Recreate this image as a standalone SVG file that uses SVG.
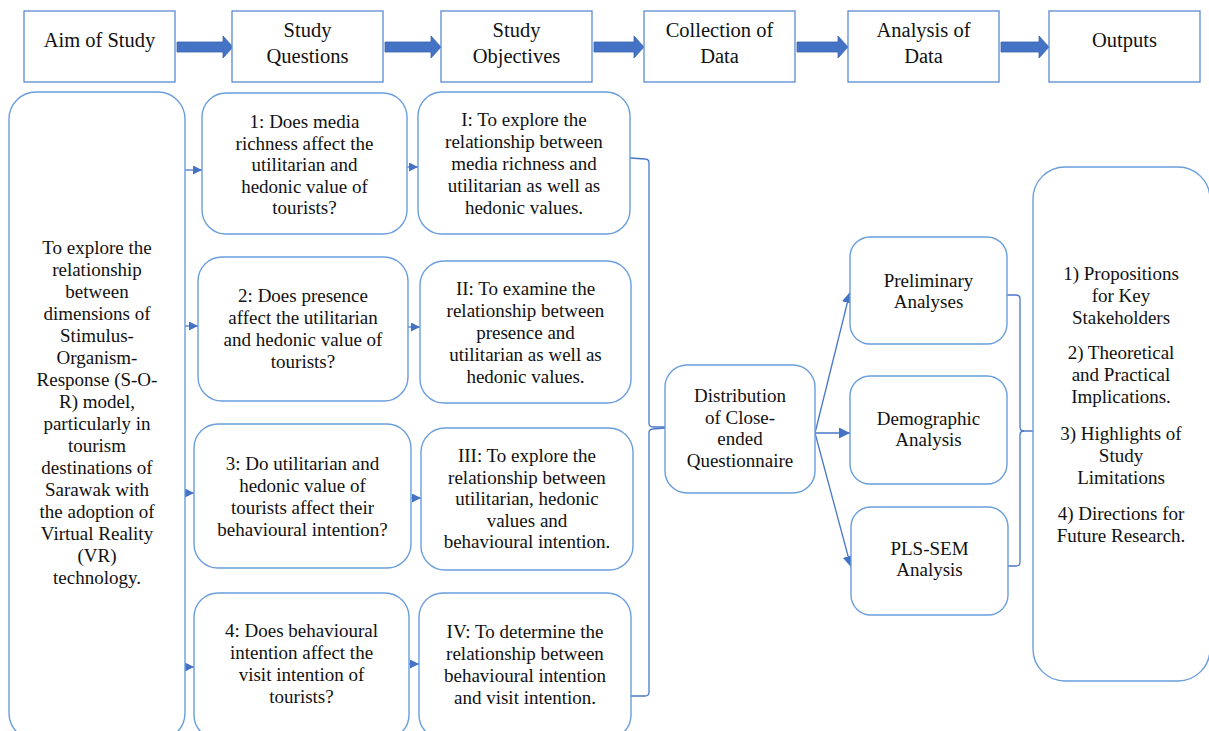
<svg xmlns="http://www.w3.org/2000/svg" width="1209" height="731" viewBox="0 0 1209 731">
<defs>
<style>
.hdr{fill:#fff;stroke:#5a8ad0;stroke-width:1.3}
.rb{fill:#fff;stroke:#6a9edc;stroke-width:1.4}
.t{font-family:'Liberation Serif',serif;font-size:19px;fill:#111;text-anchor:middle}
.th{font-family:'Liberation Serif',serif;font-size:20.5px;fill:#111;text-anchor:middle}
.blk{fill:#4472c4;stroke:#3a64b0;stroke-width:0.8}
.ln{fill:none;stroke:#4a78c8;stroke-width:1.3}
</style>
<marker id="ah" viewBox="0 0 10 10" refX="10" refY="5" markerWidth="9" markerHeight="9" markerUnits="userSpaceOnUse" orient="auto">
<path d="M0,0 L10,5 L0,10 Z" fill="#4472c4"/>
</marker>
<marker id="ah2" viewBox="0 0 10 10" refX="10" refY="5" markerWidth="11" markerHeight="11" markerUnits="userSpaceOnUse" orient="auto">
<path d="M0,0 L10,5 L0,10 Z" fill="#4472c4"/>
</marker>
</defs>
<rect width="1209" height="731" fill="#fff"/>

<g id="connectors">
<path class="blk" d="M177,42 L223,42 L223,36 L233,47 L223,58 L223,52 L177,52 Z"/>
<path class="blk" d="M385,42 L431,42 L431,36 L441,47 L431,58 L431,52 L385,52 Z"/>
<path class="blk" d="M594,42 L634,42 L634,36 L644,47 L634,58 L634,52 L594,52 Z"/>
<path class="blk" d="M797,42 L838,42 L838,36 L848,47 L838,58 L838,52 L797,52 Z"/>
<path class="blk" d="M1001,42 L1039,42 L1039,36 L1049,47 L1039,58 L1039,52 L1001,52 Z"/>
<line class="ln" x1="185" y1="170" x2="202" y2="170" marker-end="url(#ah)"/>
<line class="ln" x1="185" y1="326" x2="198" y2="326" marker-end="url(#ah)"/>
<line class="ln" x1="185" y1="493" x2="194" y2="493" marker-end="url(#ah)"/>
<line class="ln" x1="185" y1="667" x2="194" y2="667" marker-end="url(#ah)"/>
<line class="ln" x1="407" y1="167" x2="418" y2="167" marker-end="url(#ah)"/>
<line class="ln" x1="408" y1="327" x2="420" y2="327" marker-end="url(#ah)"/>
<line class="ln" x1="411" y1="498" x2="421" y2="498" marker-end="url(#ah)"/>
<line class="ln" x1="409" y1="664" x2="419" y2="664" marker-end="url(#ah)"/>
<path class="ln" d="M630,158 L645,159 Q649,159 649,163 L649,423 Q649,427 653,427 L665,427"/>
<path class="ln" d="M631,696 L645,696 Q649,696 649,692 L649,433 Q649,429 653,429 L665,428"/>
<line class="ln" x1="815" y1="433" x2="850" y2="292" marker-end="url(#ah2)"/>
<line class="ln" x1="815" y1="433" x2="850" y2="433" marker-end="url(#ah2)"/>
<line class="ln" x1="815" y1="433" x2="851" y2="567" marker-end="url(#ah2)"/>
<path class="ln" d="M1007,295 L1016,295 Q1020,295 1020,299 L1020,427 Q1020,431 1024,431 L1033,431"/>
<path class="ln" d="M1008,566 L1016,566 Q1020,566 1020,562 L1020,435 Q1020,431 1024,431"/>
</g>

<g id="h-aim"><rect class="hdr" x="24" y="11" width="151" height="71"/><text class="th" x="99.5" y="47">Aim of Study</text></g>
<g id="h-questions"><rect class="hdr" x="232" y="11" width="151" height="71"/><text class="th" x="307.5" y="37">Study</text><text class="th" x="307.5" y="63">Questions</text></g>
<g id="h-objectives"><rect class="hdr" x="441" y="11" width="151" height="71"/><text class="th" x="516.5" y="37">Study</text><text class="th" x="516.5" y="63">Objectives</text></g>
<g id="h-collection"><rect class="hdr" x="644" y="11" width="151" height="71"/><text class="th" x="719.5" y="37">Collection of</text><text class="th" x="719.5" y="63">Data</text></g>
<g id="h-analysis"><rect class="hdr" x="848" y="11" width="151" height="71"/><text class="th" x="923.5" y="37">Analysis of</text><text class="th" x="923.5" y="63">Data</text></g>
<g id="h-outputs"><rect class="hdr" x="1049" y="11" width="151" height="71"/><text class="th" x="1124.5" y="47">Outputs</text></g>

<g id="aim">
<rect class="rb" x="9" y="92" width="176" height="648" rx="27"/>
<text class="t" x="97" y="254">To explore the</text>
<text class="t" x="97" y="276">relationship</text>
<text class="t" x="97" y="298">between</text>
<text class="t" x="97" y="320">dimensions of</text>
<text class="t" x="97" y="342">Stimulus-</text>
<text class="t" x="97" y="364">Organism-</text>
<text class="t" x="97" y="386">Response (S-O-</text>
<text class="t" x="97" y="408">R) model,</text>
<text class="t" x="97" y="430">particularly in</text>
<text class="t" x="97" y="452">tourism</text>
<text class="t" x="97" y="474">destinations of</text>
<text class="t" x="97" y="496">Sarawak with</text>
<text class="t" x="97" y="518">the adoption of</text>
<text class="t" x="97" y="540">Virtual Reality</text>
<text class="t" x="97" y="562">(VR)</text>
<text class="t" x="97" y="584">technology.</text>
</g>

<g id="q1">
<rect class="rb" x="202" y="93" width="205" height="141" rx="24"/>
<text class="t" x="304.5" y="128">1: Does media</text>
<text class="t" x="304.5" y="149.5">richness affect the</text>
<text class="t" x="304.5" y="171">utilitarian and</text>
<text class="t" x="304.5" y="192.5">hedonic value of</text>
<text class="t" x="304.5" y="214">tourists?</text>
</g>
<g id="q2">
<rect class="rb" x="198" y="257" width="210" height="144" rx="24"/>
<text class="t" x="303" y="302">2: Does presence</text>
<text class="t" x="303" y="324">affect the utilitarian</text>
<text class="t" x="303" y="346">and hedonic value of</text>
<text class="t" x="303" y="368">tourists?</text>
</g>
<g id="q3">
<rect class="rb" x="194" y="424" width="217" height="144" rx="24"/>
<text class="t" x="302.5" y="470">3: Do utilitarian and</text>
<text class="t" x="302.5" y="492">hedonic value of</text>
<text class="t" x="302.5" y="514">tourists affect their</text>
<text class="t" x="302.5" y="536">behavioural intention?</text>
</g>
<g id="q4">
<rect class="rb" x="194" y="593" width="215" height="146" rx="24"/>
<text class="t" x="301.5" y="637">4: Does behavioural</text>
<text class="t" x="301.5" y="659">intention affect the</text>
<text class="t" x="301.5" y="681">visit intention of</text>
<text class="t" x="301.5" y="703">tourists?</text>
</g>

<g id="o1">
<rect class="rb" x="418" y="92" width="212" height="142" rx="24"/>
<text class="t" x="524" y="126">I: To explore the</text>
<text class="t" x="524" y="148">relationship between</text>
<text class="t" x="524" y="170">media richness and</text>
<text class="t" x="524" y="192">utilitarian as well as</text>
<text class="t" x="524" y="214">hedonic values.</text>
</g>
<g id="o2">
<rect class="rb" x="420" y="261" width="211" height="142" rx="24"/>
<text class="t" x="525.5" y="295">II: To examine the</text>
<text class="t" x="525.5" y="317">relationship between</text>
<text class="t" x="525.5" y="339">presence and</text>
<text class="t" x="525.5" y="361">utilitarian as well as</text>
<text class="t" x="525.5" y="383">hedonic values.</text>
</g>
<g id="o3">
<rect class="rb" x="421" y="428" width="212" height="142" rx="24"/>
<text class="t" x="527" y="462">III: To explore the</text>
<text class="t" x="527" y="483.5">relationship between</text>
<text class="t" x="527" y="505">utilitarian, hedonic</text>
<text class="t" x="527" y="526.5">values and</text>
<text class="t" x="527" y="548">behavioural intention.</text>
</g>
<g id="o4">
<rect class="rb" x="419" y="593" width="212" height="146" rx="24"/>
<text class="t" x="525" y="638">IV: To determine the</text>
<text class="t" x="525" y="660">relationship between</text>
<text class="t" x="525" y="682">behavioural intention</text>
<text class="t" x="525" y="704">and visit intention.</text>
</g>

<g id="distribution">
<rect class="rb" x="665" y="365" width="150" height="128" rx="22"/>
<text class="t" x="740" y="402">Distribution</text>
<text class="t" x="740" y="424">of Close-</text>
<text class="t" x="740" y="445">ended</text>
<text class="t" x="740" y="467">Questionnaire</text>
</g>

<g id="preliminary">
<rect class="rb" x="850" y="237" width="157" height="107" rx="20"/>
<text class="t" x="928.5" y="287">Preliminary</text>
<text class="t" x="928.5" y="308">Analyses</text>
</g>
<g id="demographic">
<rect class="rb" x="850" y="376" width="157" height="108" rx="20"/>
<text class="t" x="928.5" y="425">Demographic</text>
<text class="t" x="928.5" y="446">Analysis</text>
</g>
<g id="plssem">
<rect class="rb" x="851" y="507" width="157" height="108" rx="20"/>
<text class="t" x="929.5" y="555">PLS-SEM</text>
<text class="t" x="929.5" y="576">Analysis</text>
</g>

<g id="outputs">
<rect class="rb" x="1033" y="167" width="177" height="514" rx="32"/>
<text class="t" x="1121" y="280">1) Propositions</text>
<text class="t" x="1121" y="302">for Key</text>
<text class="t" x="1121" y="324">Stakeholders</text>
<text class="t" x="1121" y="359">2) Theoretical</text>
<text class="t" x="1121" y="381">and Practical</text>
<text class="t" x="1121" y="403">Implications.</text>
<text class="t" x="1121" y="440">3) Highlights of</text>
<text class="t" x="1121" y="462">Study</text>
<text class="t" x="1121" y="484">Limitations</text>
<text class="t" x="1121" y="520">4) Directions for</text>
<text class="t" x="1121" y="542">Future Research.</text>
</g>
</svg>
